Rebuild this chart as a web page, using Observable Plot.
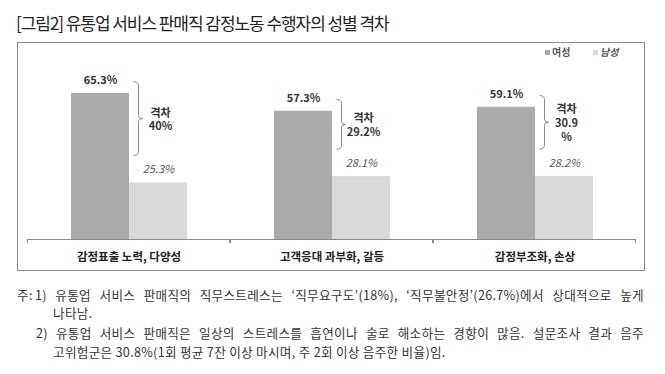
<!DOCTYPE html>
<html><head><meta charset="utf-8">
<script src="https://cdn.jsdelivr.net/npm/d3@7"></script>
<script src="https://cdn.jsdelivr.net/npm/@observablehq/plot@0.6"></script>
<style>
body{margin:0;background:#fff;font-family:"Noto Sans CJK KR","Noto Sans",sans-serif;}
#wrap{position:relative;width:665px;height:374px;overflow:hidden;}
#title{position:absolute;left:16px;top:12px;font-size:17px;line-height:22px;color:#222;letter-spacing:-1.05px;white-space:nowrap;}
#box{position:absolute;left:17px;top:42px;width:628px;height:229px;border:1px solid #8c8c8c;box-sizing:border-box;}
#chart{position:absolute;left:0;top:0;}
#legend{position:absolute;top:45px;left:0;width:665px;height:14px;font-size:10px;line-height:14px;color:#555;font-weight:bold;}
#legend .it{position:absolute;white-space:nowrap;}
#legend span.sw{display:inline-block;width:5px;height:5px;margin-right:2px;vertical-align:1px;}
.note{position:absolute;font-size:12.6px;line-height:16px;color:#333;white-space:nowrap;letter-spacing:0.3px;}
.just{text-align:justify;text-align-last:justify;white-space:normal;}
</style></head>
<body><div id="wrap">
<div id="title"></div>
<div id="box"></div>
<div id="chart"></div>
<div id="legend"></div>
<div id="notes"></div>
</div>
<script>
const titleText = "[그림2] 유통업 서비스 판매직 감정노동 수행자의 성별 격차";
const categories = ["감정표출 노력, 다양성", "고객응대 과부화, 갈등", "감정부조화, 손상"];
const genders = ["여성", "남성"];
const women = [65.3, 57.3, 59.1];
const men = [25.3, 28.1, 28.2];
const gapLabels = ["격차\n40%", "격차\n29.2%", "격차\n30.9\n%"];
const colors = ["#aaaaab", "#d9d9d9"];
const notes = [
  "주:",
  "1) 유통업 서비스 판매직의 직무스트레스는 ‘직무요구도’(18%), ‘직무불안정’(26.7%)에서 상대적으로 높게",
  "나타남.",
  "2) 유통업 서비스 판매직은 일상의 스트레스를 흡연이나 술로 해소하는 경향이 많음. 설문조사 결과 음주",
  "고위험군은 30.8%(1회 평균 7잔 이상 마시며, 주 2회 이상 음주한 비율)임."
];

document.getElementById("title").textContent = titleText;

const rows = categories.flatMap((c, i) => [
  {category: c, gender: genders[0], value: women[i]},
  {category: c, gender: genders[1], value: men[i]}
]);
const gaps = categories.map((c, i) => ({category: c, w: women[i], m: men[i], label: gapLabels[i]}));

const chart = Plot.plot({
  width: 665, height: 275,
  marginLeft: 26, marginRight: 29, marginTop: 60, marginBottom: 36,
  fx: {domain: categories, padding: 0, label: null},
  x: {domain: genders, paddingInner: 0, paddingOuter: 0.75, axis: null},
  y: {domain: [0, 80], axis: null},
  color: {domain: genders, range: colors},
  style: {fontFamily: "Noto Sans CJK KR", background: "transparent", overflow: "visible"},
  marks: [
    Plot.barY(rows, {fx: "category", x: "gender", y: "value", fill: "gender"}),
    Plot.text(rows.filter(d => d.gender === genders[0]), {
      fx: "category", x: "gender", y: "value", text: d => d.value.toFixed(1) + "%",
      dy: -13, fontWeight: "bold", fontSize: 11, fill: "#333"
    }),
    Plot.text(rows.filter(d => d.gender === genders[1]), {
      fx: "category", x: "gender", y: "value", text: d => d.value.toFixed(1) + "%",
      dy: -13, fontStyle: "italic", fontSize: 11, fill: "#555"
    }),
    (index, scales) => {
      const [a, b] = scales.x.range();
      const y0 = scales.y(0);
      const g = d3.create("svg:g").attr("stroke", "#8a8a8a").attr("fill", "none").attr("stroke-width", 1);
      g.append("path").attr("d", `M${a},${y0 + 0.5}H${b}M${a + 0.5},${y0}v4M${b - 0.5},${y0}v4`);
      return g.node();
    },
    Plot.ruleX(gaps, {
      fx: "category", x: () => genders[1], y1: d => d.w + 5, y2: d => d.m + 12, stroke: "#8a8a8a",
      render(index, scales) {
        const g = d3.create("svg:g").attr("fill", "none").attr("stroke", "#8a8a8a").attr("stroke-width", 1);
        for (const i of index) {
          const d = gaps[i];
          const xb = scales.x(genders[1]) + 9.5;
          const y1 = scales.y(d.w + 5), y2 = scales.y(d.m + 12), ym = (y1 + y2) / 2;
          g.append("path").attr("d",
            `M${xb - 5},${y1} Q${xb},${y1} ${xb},${y1 + 4} L${xb},${ym - 3} Q${xb},${ym} ${xb + 4},${ym} Q${xb},${ym} ${xb},${ym + 3} L${xb},${y2 - 4} Q${xb},${y2} ${xb - 5},${y2}`);
        }
        return g.node();
      }
    }),
    Plot.text(gaps, {
      fx: "category", x: () => genders[1], y: d => (d.w + 5 + d.m + 12) / 2, text: "label",
      dx: 2, fontWeight: "bold", fontSize: 11, fill: "#333", lineHeight: 1.25
    }),
    Plot.axisFx({anchor: "bottom", tickSize: 0, tickPadding: 13, fontSize: 11.5, fontWeight: "bold", fill: "#222", label: null})
  ]
});
document.getElementById("chart").appendChild(chart);

const legend = document.getElementById("legend");
const legendLeft = [545, 593];
genders.forEach((g, i) => {
  const item = document.createElement("span");
  item.className = "it";
  item.style.left = legendLeft[i] + "px";
  if (i === 1) item.style.fontStyle = "italic";
  const sw = document.createElement("span");
  sw.className = "sw";
  sw.style.background = colors[i];
  item.appendChild(sw);
  item.appendChild(document.createTextNode(g));
  legend.appendChild(item);
});

const notePos = [
  {left: 17, top: 287, width: null},
  {left: 35, top: 287, width: 609},
  {left: 53, top: 305, width: null},
  {left: 36, top: 325, width: 608},
  {left: 53, top: 344, width: null}
];
const nd = document.getElementById("notes");
notes.forEach((t, i) => {
  const el = document.createElement("div");
  el.className = "note" + (notePos[i].width ? " just" : "");
  el.style.left = notePos[i].left + "px";
  el.style.top = notePos[i].top + "px";
  if (notePos[i].width) el.style.width = notePos[i].width + "px";
  el.textContent = t;
  nd.appendChild(el);
});
</script>
</body></html>
